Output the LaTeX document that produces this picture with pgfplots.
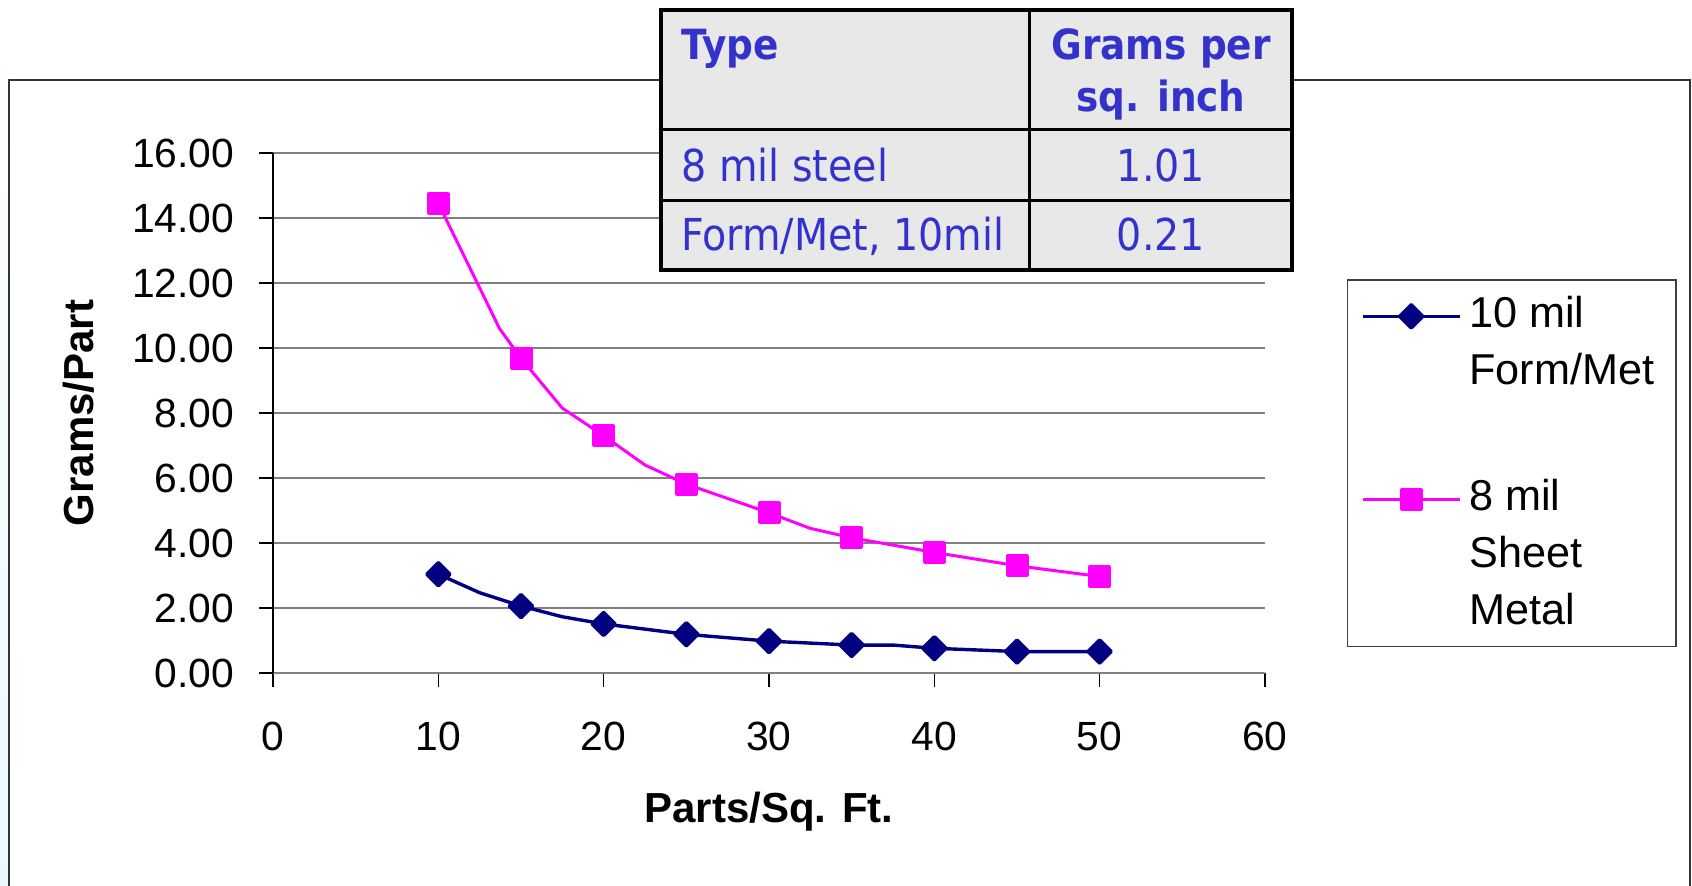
\documentclass[border=0pt]{standalone}
\usepackage{fontspec}
\setmainfont{Liberation Sans}
\newfontfamily\tablefont{DejaVu Sans Condensed}
\usepackage{pgfplots}
\pgfplotsset{compat=1.18}
\definecolor{navyline}{RGB}{0,0,128}
\definecolor{magline}{RGB}{255,0,255}
\definecolor{gridcol}{RGB}{128,128,128}
\definecolor{framecol}{RGB}{51,51,51}
\definecolor{stripcol}{RGB}{234,248,252}
\definecolor{tabfill}{RGB}{232,232,232}
\definecolor{tabtext}{RGB}{51,51,204}
\begin{document}
\begin{tikzpicture}
\useasboundingbox (0,0) rectangle (423pt,-221.5pt);
\begin{scope}
\clip (0,0) rectangle (423pt,-221.5pt);
\shade[top color=white, bottom color=stripcol] (0,0) rectangle (2.1pt,-221.5pt);
\draw[framecol, line width=0.5pt] (2.3pt,-20pt) rectangle (422.5pt,-260pt);
\end{scope}
\begin{axis}[
  at={(68.25pt,-168.25pt)}, anchor=south west,
  scale only axis, width=248pt, height=130pt,
  xmin=0, xmax=60, ymin=0, ymax=16,
  xtick={0,10,...,60}, ytick={0,2,...,16},
  axis x line*=bottom, axis y line*=left,
  x axis line style={draw=gridcol, line width=0.45pt},
  y axis line style={draw=black, line width=0.35pt},
  tick align=outside, major tick length=3.5pt,
  tick style={black, line width=0.35pt},
  ymajorgrids, grid style={draw=gridcol, line width=0.4pt},
  /pgf/number format/assume math mode=true,
  tick label style={font=\fontsize{10.2}{12}\selectfont},
  yticklabel style={/pgf/number format/fixed, /pgf/number format/fixed zerofill, /pgf/number format/precision=2, inner sep=0pt, anchor=east, xshift=-6pt},
  xticklabel style={inner sep=0pt, anchor=north, yshift=-8.6pt},
  xlabel={\textbf{Parts/Sq. Ft.}},
  ylabel={\textbf{Grams/Part}},
  label style={font=\fontsize{10.5}{12}\selectfont},
  xlabel style={at={(axis description cs:0.5,-0.266)}, anchor=center},
  ylabel style={at={(axis description cs:-0.1956,0.5)}, anchor=center},
  legend style={at={(axis description cs:1.0824,0.757)}, anchor=north west,
    draw=black!75, line width=0.4pt, inner xsep=3.4pt, inner ysep=2.0pt,
    row sep=0pt, cells={anchor=base west, inner sep=0pt},
    font=\fontsize{10.8}{12.4}\selectfont},
  legend image code/.code={\draw[#1, mark indices={2}] plot coordinates {(0pt,2.8pt) (12.1pt,2.8pt) (24.2pt,2.8pt)}; \path (23.5pt,0pt);},
]
\addplot[color=navyline, line width=0.85pt, line join=round, mark=square*, mark size=2.05pt,
  mark options={rotate=45, solid, fill=navyline, draw=navyline},
  mark indices={1,3,5,6,7,8,10,11,12}]
  coordinates {(10,3.04) (12.5,2.47) (15,2.06) (17.5,1.73) (20,1.51) (25,1.19) (30,0.98) (35,0.86) (37.5,0.86) (40,0.76) (45,0.66) (50,0.66)};
\addlegendentry{\rule[-3.72pt]{0pt}{7.8pt}10 mil}
\addlegendimage{empty legend}
\addlegendentry{\strut Form/Met}
\addlegendimage{empty legend}
\addlegendentry{\rule{0pt}{12pt}}
\addplot[color=magline, line width=0.75pt, line join=round, mark=square*, mark size=2.5pt,
  mark options={solid, fill=magline, draw=magline},
  mark indices={1,3,5,7,8,10,11,12,13}]
  coordinates {(10,14.45) (13.7,10.6) (15,9.68) (17.5,8.15) (20,7.30) (22.5,6.40) (25,5.81) (30,4.93) (32.5,4.45) (35,4.16) (40,3.71) (45,3.30) (50,2.97)};
\addlegendentry{\strut 8 mil}
\addlegendimage{empty legend}
\addlegendentry{\strut Sheet}
\addlegendimage{empty legend}
\addlegendentry{\strut Metal}
\end{axis}
% overlaid table
\fill[tabfill] (165.2pt,-2.6pt) rectangle (323.1pt,-67.5pt);
\draw[black, line width=0.7pt] (165.2pt,-32.4pt) -- (323.1pt,-32.4pt);
\draw[black, line width=0.7pt] (165.2pt,-50.1pt) -- (323.1pt,-50.1pt);
\draw[black, line width=0.7pt] (257.45pt,-2.6pt) -- (257.45pt,-67.5pt);
\draw[black, line width=1pt] (165.2pt,-2.6pt) rectangle (323.1pt,-67.5pt);
\begin{scope}[every node/.style={inner sep=0pt, text=tabtext, font=\tablefont\fontsize{11}{13}\selectfont}]
\node[anchor=base west, font=\tablefont\bfseries\fontsize{10.4}{13}\selectfont] at (170.15pt,-15pt) {Type};
\node[anchor=base, font=\tablefont\bfseries\fontsize{10.4}{13}\selectfont] at (290.25pt,-15pt) {Grams per};
\node[anchor=base, font=\tablefont\bfseries\fontsize{10.4}{13}\selectfont] at (290.25pt,-27.9pt) {sq. inch};
\node[anchor=base west] at (170.15pt,-45.4pt) {8 mil steel};
\node[anchor=base] at (290.25pt,-45.4pt) {1.01};
\node[anchor=base west] at (170.15pt,-62.7pt) {Form/Met, 10mil};
\node[anchor=base] at (290.25pt,-62.7pt) {0.21};
\end{scope}
\end{tikzpicture}
\end{document}
